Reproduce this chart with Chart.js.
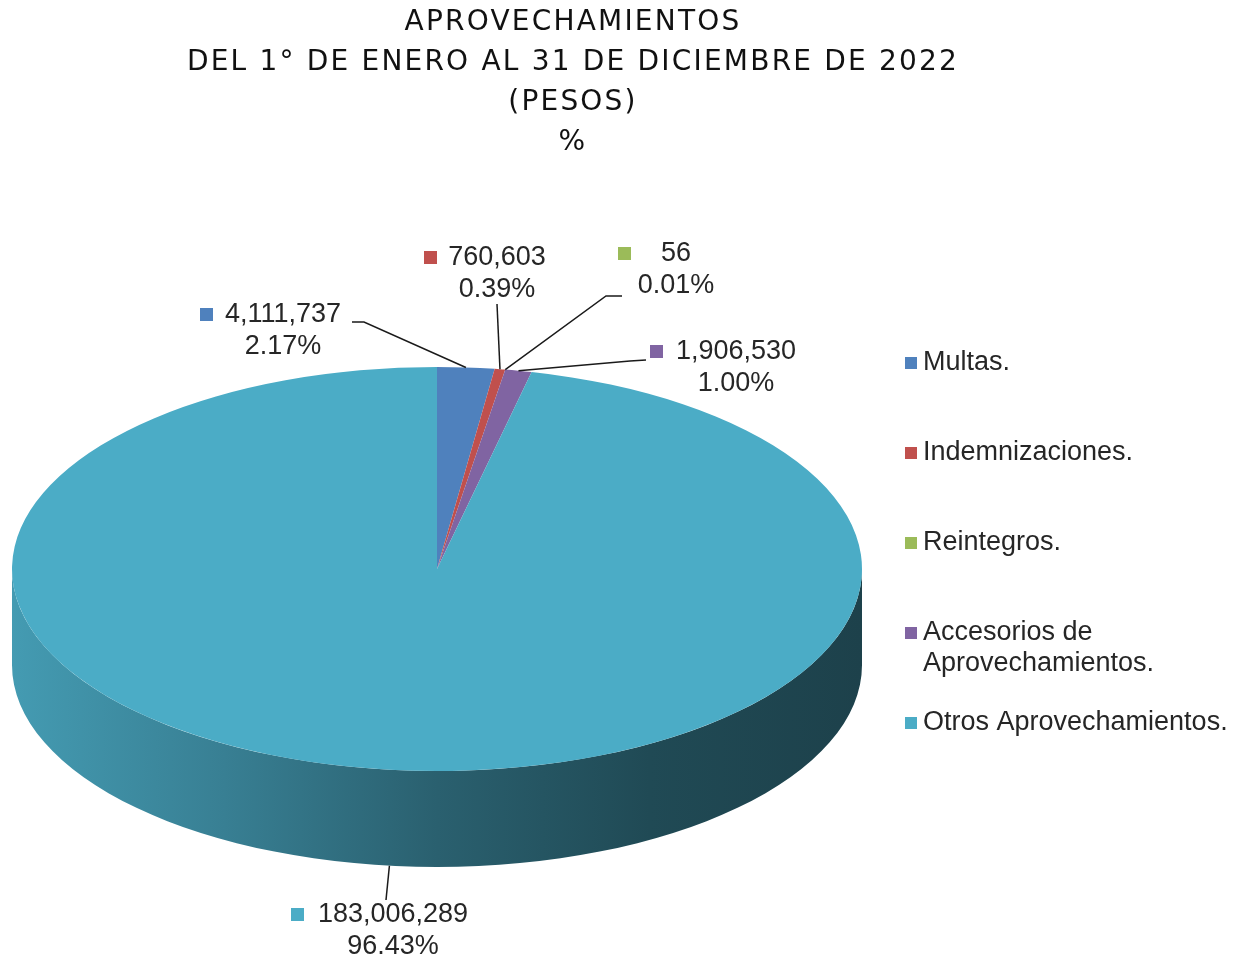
<!DOCTYPE html>
<html>
<head>
<meta charset="utf-8">
<script src="https://cdn.jsdelivr.net/npm/chart.js@4/dist/chart.umd.min.js"></script>
<style>
  html, body { margin: 0; padding: 0; background: #fff; }
  #wrap { position: relative; width: 1244px; height: 961px; overflow: hidden; }
  #titulo {
    position: absolute; left: 0; top: 1px; width: 1146px;
    text-align: center; font-family: "DejaVu Sans", sans-serif;
    font-size: 28px; line-height: 40px; letter-spacing: 2.2px; color: #111;
  }
  #grafica { position: absolute; left: 0; top: 0; }
</style>
</head>
<body>
<div id="wrap">
  <canvas id="grafica" width="1244" height="961"></canvas>
  <div id="titulo">APROVECHAMIENTOS<br>DEL 1° DE ENERO AL 31 DE DICIEMBRE DE 2022<br>(PESOS)<br>%</div>
</div>
<script>
// datos
const categorias = ['Multas.', 'Indemnizaciones.', 'Reintegros.', 'Accesorios de Aprovechamientos.', 'Otros Aprovechamientos.'];
const importes = [4111737, 760603, 56, 1906530, 183006289];
const porcentajes = ['2.17%', '0.39%', '0.01%', '1.00%', '96.43%'];
const colores = ['#4F81BD', '#C0504D', '#9BBB59', '#8064A2', '#4BACC6'];

// geometria del pastel 3D
const CX = 437, CY = 569, RX = 425, RY = 202, PROF = 96;

// posicion de las etiquetas (centro del texto, cuadro, quiebre de la linea guia)
const etiquetas = [
  { x: 283, y: 315, box: 200, codo: [[352, 322], [364, 322]] },
  { x: 497, y: 258, box: 424, codo: [[497, 304]] },
  { x: 676, y: 254, box: 618, codo: [[622, 296], [606, 296]] },
  { x: 736, y: 352, box: 650, codo: [[646, 360], [630, 361]] },
  { x: 393, y: 915, box: 291, codo: [[386, 900]] }
];

const fuente = '27px "Liberation Sans", Arial, sans-serif';

function sombra(hex, f) {
  const n = parseInt(hex.slice(1), 16);
  const r = Math.round(((n >> 16) & 255) * f);
  const g = Math.round(((n >> 8) & 255) * f);
  const b = Math.round((n & 255) * f);
  return `rgb(${r},${g},${b})`;
}

const pastel3d = {
  id: 'pastel3d',
  beforeDatasetsDraw(chart) {
    const ctx = chart.ctx;
    const arcos = chart.getDatasetMeta(0).data;
    const a0 = arcos[0];

    // cara lateral visible (mitad frontal)
    arcos.forEach((arco, i) => {
      for (let k = -1; k <= 1; k++) {
        const s = arco.startAngle + k * 2 * Math.PI;
        const e = arco.endAngle + k * 2 * Math.PI;
        const lo = Math.max(s, 0), hi = Math.min(e, Math.PI);
        if (hi <= lo) continue;
        const grad = ctx.createLinearGradient(CX - RX, 0, CX + RX, 0);
        grad.addColorStop(0, sombra(colores[i], 0.9));
        grad.addColorStop(0.25, sombra(colores[i], 0.74));
        grad.addColorStop(0.5, sombra(colores[i], 0.56));
        grad.addColorStop(0.75, sombra(colores[i], 0.43));
        grad.addColorStop(1, sombra(colores[i], 0.38));
        ctx.save();
        ctx.beginPath();
        ctx.ellipse(CX, CY, RX, RY, 0, lo, hi);
        ctx.ellipse(CX, CY + PROF, RX, RY, 0, hi, lo, true);
        ctx.closePath();
        ctx.fillStyle = grad;
        ctx.fill();
        ctx.restore();
      }
    });

    // aplastar la cara superior
    ctx.save();
    ctx.translate(CX, CY);
    ctx.scale(RX / a0.outerRadius, RY / a0.outerRadius);
    ctx.translate(-a0.x, -a0.y);
  },
  afterDatasetsDraw(chart) {
    const ctx = chart.ctx;
    ctx.restore();
    const arcos = chart.getDatasetMeta(0).data;

    // etiquetas con lineas guia
    ctx.save();
    ctx.font = fuente;
    ctx.textBaseline = 'middle';
    arcos.forEach((arco, i) => {
      const m = (arco.startAngle + arco.endAngle) / 2;
      let px = CX + RX * Math.cos(m);
      let py = CY + RY * Math.sin(m);
      if (Math.sin(m) > 0.3) py += PROF;
      const et = etiquetas[i];

      ctx.strokeStyle = '#1a1a1a';
      ctx.lineWidth = 1.5;
      ctx.beginPath();
      ctx.moveTo(et.codo[0][0], et.codo[0][1]);
      et.codo.slice(1).forEach(p => ctx.lineTo(p[0], p[1]));
      ctx.lineTo(px, py);
      ctx.stroke();

      ctx.fillStyle = colores[i];
      ctx.fillRect(et.box, et.y - 7, 13, 13);
      ctx.fillStyle = '#262626';
      ctx.textAlign = 'center';
      ctx.fillText(importes[i].toLocaleString('en-US'), et.x, et.y);
      ctx.fillText(porcentajes[i], et.x, et.y + 32);
    });

    // leyenda
    ctx.textAlign = 'left';
    categorias.forEach((cat, i) => {
      const y = 363 + i * 90;
      ctx.fillStyle = colores[i];
      ctx.fillRect(905, y - 6, 12, 12);
      ctx.fillStyle = '#262626';
      const palabras = cat.split(' ');
      let linea = '', n = 0;
      palabras.forEach(p => {
        const prueba = linea ? linea + ' ' + p : p;
        if (ctx.measureText(prueba).width > 320 && linea) {
          ctx.fillText(linea, 923, y + n * 31);
          n++;
          linea = p;
        } else {
          linea = prueba;
        }
      });
      ctx.fillText(linea, 923, y + n * 31);
    });
    ctx.restore();
  }
};

new Chart(document.getElementById('grafica'), {
  type: 'pie',
  data: {
    labels: categorias,
    datasets: [{
      data: importes,
      backgroundColor: colores,
      borderWidth: 0
    }]
  },
  options: {
    responsive: false,
    animation: false,
    layout: { padding: { top: 100, bottom: 40, left: 20, right: 400 } },
    plugins: {
      legend: { display: false },
      tooltip: { enabled: false }
    }
  },
  plugins: [pastel3d]
});
</script>
</body>
</html>
